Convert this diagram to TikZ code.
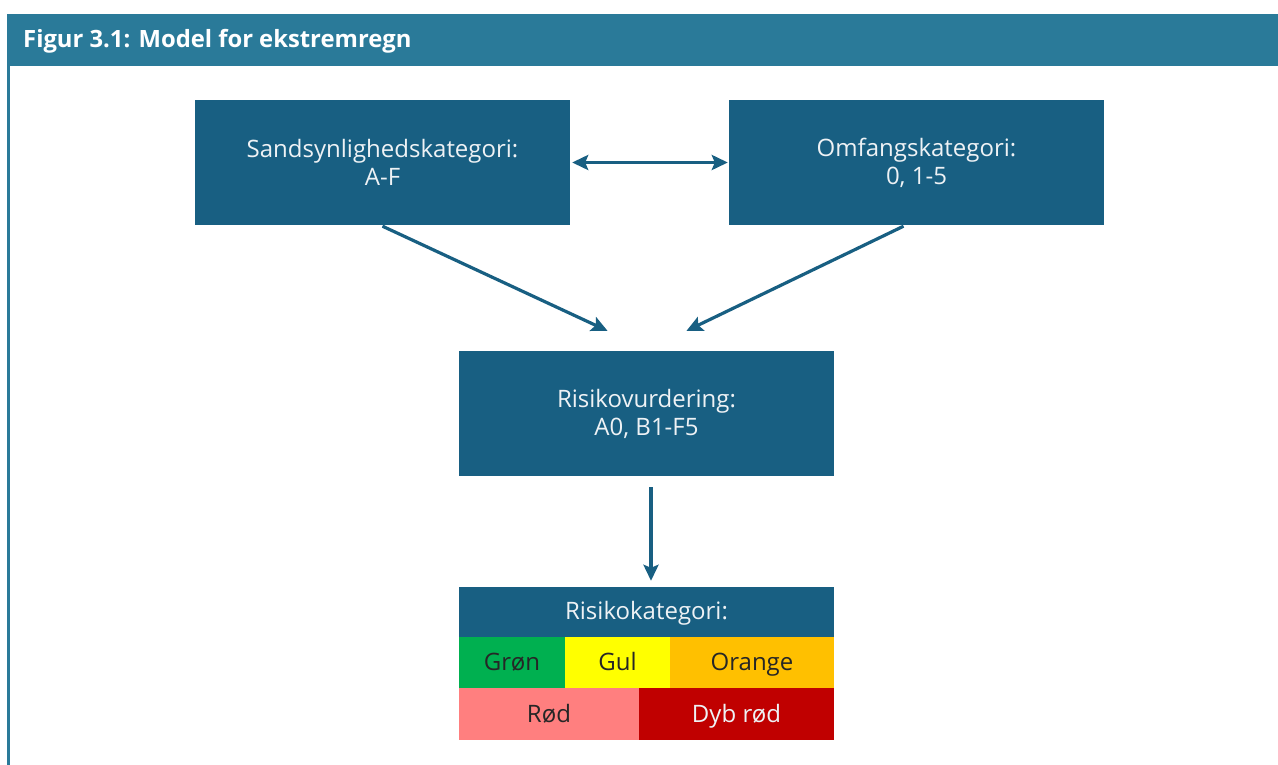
\documentclass[tikz,border=0pt]{standalone}
\usepackage{fontspec}
\setmainfont{Open Sans}
\usetikzlibrary{arrows.meta,calc}
\definecolor{hdr}{HTML}{2A7A99}
\definecolor{boxc}{HTML}{185F82}
\definecolor{boxtxt}{HTML}{EEF2F5}
\definecolor{grn}{HTML}{00B050}
\definecolor{yel}{HTML}{FFFF00}
\definecolor{org}{HTML}{FFC000}
\definecolor{rod}{HTML}{FF7F7F}
\definecolor{dyb}{HTML}{C00000}
\tikzset{
  box/.style={fill=boxc, text=boxtxt, minimum width=375pt, minimum height=125pt, inner sep=0pt, align=center, font=\fontsize{24}{28}\selectfont},
  cell/.style={inner sep=0pt, minimum height=51pt, text height=19pt, text depth=3pt, font=\fontsize{24}{28}\selectfont, text=black!85},
  conn/.style={draw=boxc, line width=3.2pt, -{Stealth[length=16pt,width=15pt,inset=3pt]}},
}
\begin{document}
\begin{tikzpicture}[x=1pt,y=-1pt]
\useasboundingbox (0,0) rectangle (1278,765);
\fill[white] (0,0) rectangle (1278,765);
% header
\node[fill=hdr, minimum width=1271pt, minimum height=52pt, inner sep=0pt, anchor=north west] (hd) at (7,14) {};
\node[anchor=west, text=white, font=\bfseries\fontsize{23.8}{28}\selectfont, inner sep=0pt] (title) at (23,41.5) {Figur 3.1: Model for ekstremregn};
\fill[hdr] (7,66) rectangle (9.5,765);
% boxes
\node[box] (p) at (382.5,162.5) {Sandsynlighedskategori:\\A-F};
\node[box] (o) at (916.5,162.5) {Omfangskategori:\\0, 1-5};
\node[box] (r) at (646.5,413.5) {Risikovurdering:\\A0, B1-F5};
% category table
\node[fill=boxc, text=boxtxt, minimum width=375pt, minimum height=50pt, inner sep=0pt, text height=18pt, text depth=4pt, font=\fontsize{24}{28}\selectfont] (k) at (646.5,612) {Risikokategori:};
\node[cell, fill=grn, minimum width=106pt] (g) at (512,662.5) {Grøn};
\node[cell, fill=yel, minimum width=105pt] (y) at (617.5,662.5) {Gul};
\node[cell, fill=org, minimum width=164pt] (or) at (752,662.5) {Orange};
\node[cell, fill=rod, minimum width=180pt, minimum height=52pt] (rd) at (549,714) {Rød};
\node[cell, fill=dyb, text=boxtxt, minimum width=195pt, minimum height=52pt] (dr) at (736.5,714) {Dyb rød};
% connectors
\draw[conn, {Stealth[length=16pt,width=15pt,inset=3pt]}-{Stealth[length=16pt,width=15pt,inset=3pt]}, shorten <=2pt, shorten >=1pt] (p.east) -- (o.west);
\coordinate (a1s) at ($(p.south)+(0,1)$);
\coordinate (a1e) at ($(r.north)+(-39,-20)$);
\coordinate (a2s) at ($(o.south)+(-13,1)$);
\coordinate (a2e) at ($(r.north)+(40,-20)$);
\coordinate (a3s) at ($(r.south)+(4.5,11)$);
\coordinate (a3e) at ($(k.north)+(4.5,-6)$);
\draw[conn] (a1s) -- (a1e);
\draw[conn] (a2s) -- (a2e);
\draw[conn] (a3s) -- (a3e);
\end{tikzpicture}
\end{document}
